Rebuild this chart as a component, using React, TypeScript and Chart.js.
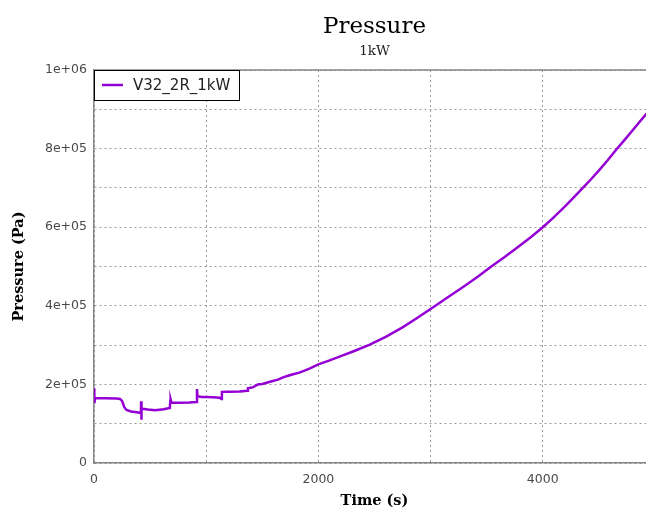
import React, { useEffect, useRef } from 'react';
import { Chart, registerables } from 'chart.js';

Chart.register(...registerables);

// Pressure history of run V32_2R_1kW
const timeS = [
  0, 3, 10, 100, 200, 232, 250, 270, 290, 330, 380, 418, 420, 422, 425, 432, 480, 545, 620, 676,
  680, 683, 690, 760, 850, 915, 918, 922, 960, 1000, 1060, 1120, 1135, 1140, 1200, 1300, 1365,
  1372, 1420, 1460, 1500, 1585, 1640, 1685, 1730, 1775, 1830, 1865, 1920, 2000, 2100, 2200,
  2320, 2458, 2600, 2750, 2890, 3036, 3160, 3290, 3420, 3541, 3660, 3770, 3890, 4000, 4090,
  4180, 4270, 4357, 4430, 4505, 4580, 4654, 4720, 4790, 4860, 4925,
];
const pressurePa = [
  190000, 152000, 165000, 164500, 164000, 163000, 158000, 142000, 135000, 131000, 129000, 127000,
  157000, 110000, 140000, 138000, 136000, 134000, 137000, 140000, 158000, 162000, 154000, 153500,
  154000, 155000, 188000, 170000, 168000, 168000, 167500, 166000, 163000, 181000, 181500, 182000,
  184000, 190000, 193000, 200000, 201000, 208000, 212000, 218000, 222000, 226000, 230000, 234000,
  240000, 251000, 261000, 272000, 285000, 301000, 321000, 345000, 371000, 399000, 423000, 448000,
  474000, 500000, 524000, 548000, 574000, 600000, 623000, 648000, 674000, 700000, 722000, 746000,
  771000, 797000, 819000, 843000, 867000, 889000,
];

const chartTitle = 'Pressure';
const chartSubtitle = '1kW';
const xAxisTitle = 'Time (s)';
const seriesLabel = 'V32_2R_1kW';
const seriesColor = 'rgb(148,0,211)';

// visible time window; the full axis runs to 5000 s, past the canvas edge
const xVisibleMax = 4920;
const xAxisEnd = 5000;

// grid every 1000 s / 1e5 Pa, labels on every other line
const xGridValues = [0, 1000, 2000, 3000, 4000];
const xTickLabels = ['0', '', '2000', '', '4000'];
const yGridValues = [0, 100000, 200000, 300000, 400000, 500000, 600000, 700000, 800000, 900000, 1000000];
const yTickLabels = ['0', '', '2e+05', '', '4e+05', '', '6e+05', '', '8e+05', '', '1e+06'];

// titles centred over the full axis, top frame line, boxed legend in the upper-left corner
const framePlugin = {
  id: 'frameAndLegend',
  afterDraw(chart: any) {
    const { ctx, chartArea } = chart;
    const { left, right, top } = chartArea;
    const xScale = chart.scales.x;
    const cx = (left + xScale.getPixelForValue(xAxisEnd)) / 2;
    ctx.save();

    ctx.fillStyle = '#000000';
    ctx.textAlign = 'center';
    ctx.textBaseline = 'alphabetic';
    ctx.font = '23px "DejaVu Serif"';
    ctx.fillText(chartTitle, cx, 33);
    ctx.fillStyle = '#222222';
    ctx.font = '13.5px "DejaVu Serif"';
    ctx.fillText(chartSubtitle, cx, 55);
    ctx.fillStyle = '#000000';
    ctx.font = 'bold 14.5px "DejaVu Serif"';
    ctx.fillText(xAxisTitle, cx, 505);

    ctx.strokeStyle = '#858585';
    ctx.lineWidth = 1.5;
    ctx.beginPath();
    ctx.moveTo(left, top);
    ctx.lineTo(right, top);
    ctx.stroke();

    const ds = chart.data.datasets[0];
    const boxW = 145;
    const boxH = 30;
    ctx.fillStyle = '#ffffff';
    ctx.fillRect(left, top, boxW, boxH);
    ctx.strokeStyle = '#000000';
    ctx.lineWidth = 1;
    ctx.strokeRect(left + 0.5, top + 0.5, boxW, boxH);

    ctx.strokeStyle = ds.borderColor;
    ctx.lineWidth = 2.5;
    ctx.beginPath();
    ctx.moveTo(left + 8, top + 15);
    ctx.lineTo(left + 29, top + 15);
    ctx.stroke();

    ctx.fillStyle = '#222222';
    ctx.font = '15px "DejaVu Sans"';
    ctx.textBaseline = 'middle';
    ctx.textAlign = 'left';
    ctx.fillText(ds.label, left + 39, top + 16);
    ctx.restore();
  },
};

const setTicks = (values: number[], labels: string[]) => ({
  afterBuildTicks(scale: any) {
    scale.ticks = values.map((v) => ({ value: v }));
  },
  afterTickToLabelConversion(scale: any) {
    scale.ticks.forEach((t: any, i: number) => {
      t.label = labels[i];
    });
  },
});

export default function App() {
  const canvasRef = useRef<HTMLCanvasElement | null>(null);

  useEffect(() => {
    document.body.style.margin = '0';
    const canvas = canvasRef.current;
    if (!canvas) return;

    const points = timeS.map((t, i) => ({ x: t, y: pressurePa[i] }));
    const tickFont = { family: '"DejaVu Sans"', size: 12.5 };
    const gridColor = '#9c9c9c';
    const axisColor = '#858585';

    const chart = new Chart(canvas, {
      type: 'line',
      data: {
        datasets: [
          {
            label: seriesLabel,
            data: points,
            borderColor: seriesColor,
            backgroundColor: seriesColor,
            borderWidth: 2.5,
            pointRadius: 0,
            tension: 0,
            fill: false,
          },
        ],
      },
      plugins: [framePlugin],
      options: {
        responsive: false,
        animation: false,
        devicePixelRatio: 1,
        layout: { padding: { top: 70, left: 0, bottom: 0, right: 0 } },
        plugins: {
          legend: { display: false },
          tooltip: { enabled: false },
          title: { display: false },
          subtitle: { display: false },
        },
        scales: {
          x: {
            type: 'linear',
            min: 0,
            max: xVisibleMax,
            bounds: 'data',
            ...setTicks(xGridValues, xTickLabels),
            afterFit(scale: any) {
              scale.height = 47;
              scale.paddingLeft = 0;
              scale.paddingRight = 0;
            },
            ticks: {
              autoSkip: false,
              maxRotation: 0,
              padding: 9,
              color: '#4a4a4a',
              font: tickFont,
            },
            grid: { color: gridColor, lineWidth: 1, drawTicks: false },
            border: { display: true, color: axisColor, width: 1.5, dash: [2, 3] },
            title: { display: false },
          },
          y: {
            type: 'linear',
            min: 0,
            max: 1000000,
            bounds: 'data',
            ...setTicks(yGridValues, yTickLabels),
            afterFit(scale: any) {
              scale.width = 94;
              scale.paddingTop = 0;
              scale.paddingBottom = 0;
            },
            ticks: {
              autoSkip: false,
              padding: 7,
              color: '#4a4a4a',
              font: tickFont,
            },
            grid: { color: gridColor, lineWidth: 1, drawTicks: false },
            border: { display: true, color: axisColor, width: 1.5, dash: [2, 3] },
            title: {
              display: true,
              text: 'Pressure (Pa)',
              color: '#000',
              font: { family: '"DejaVu Serif"', size: 14.5, weight: 'bold' },
              padding: { top: 11, bottom: 0 },
            },
          },
        },
      },
    } as any);

    return () => chart.destroy();
  }, []);

  return (
    <div style={{ width: 646, height: 510 }}>
      <canvas ref={canvasRef} width={646} height={510} style={{ display: 'block' }} />
    </div>
  );
}
